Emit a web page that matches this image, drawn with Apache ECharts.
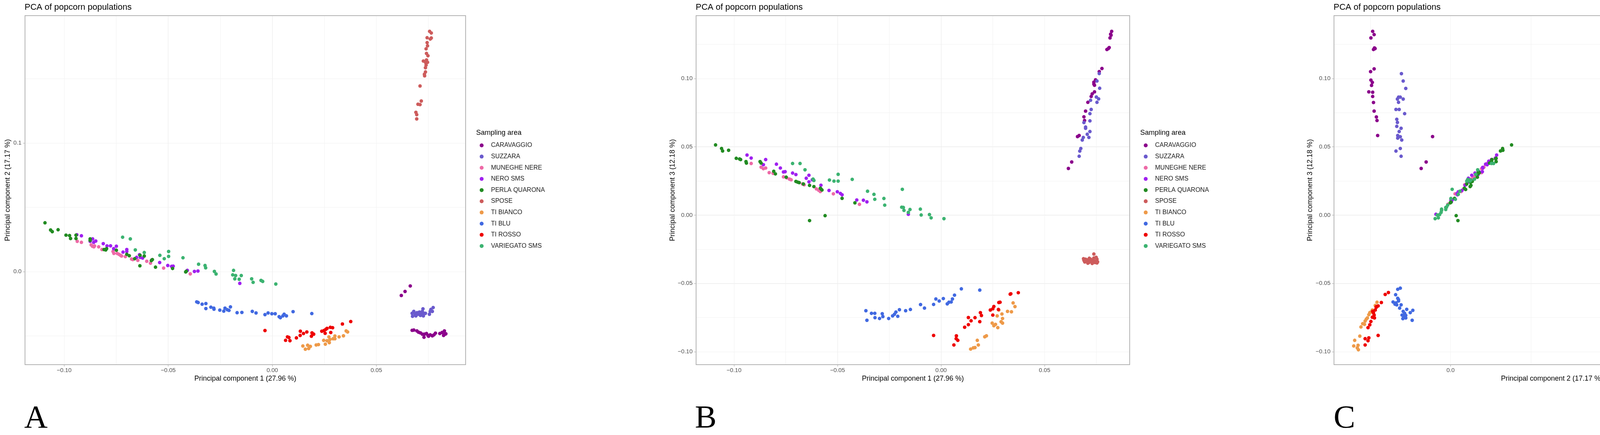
<!DOCTYPE html>
<html><head><meta charset="utf-8">
<script src="https://cdn.jsdelivr.net/npm/echarts@6.0.0/dist/echarts.min.js"></script>
<style>html,body{margin:0;padding:0;background:#fff}#c{width:4731px;height:1113px}</style>
</head><body><div id="c"></div>
<script>
// ---------- categories & colours ----------
const populations = ['CARAVAGGIO','SUZZARA','MUNEGHE NERE','NERO SMS','PERLA QUARONA','SPOSE','TI BIANCO','TI BLU','TI ROSSO','VARIEGATO SMS'];
const popColors = ['#8B008B','#6A5ACD','#EE6AA7','#A020F0','#228B22','#CD5C5C','#EE9A49','#4169E1','#EE0000','#3CB371'];

// ---------- axis titles & ticks ----------
const pc1Title = 'Principal component 1 (27.96 %)';
const pc2Title = 'Principal component 2 (17.17 %)';
const pc3Title = 'Principal component 3 (12.18 %)';
const pc1Ticks = [-0.10, -0.05, 0.00, 0.05];
const pc2Ticks = [0.0, 0.1];
const pc3Ticks = [-0.10, -0.05, 0.00, 0.05, 0.10];

// ---------- Panel A : PC1 vs PC2 ----------
const A_CARAVAGGIO = [[0.0620,-0.0185],[0.0638,-0.0154],[0.0663,-0.0111],[0.0672,-0.0456],[0.0680,-0.0454],[0.0695,-0.0461],[0.0703,-0.0471],[0.0712,-0.0476],[0.0721,-0.0486],[0.0729,-0.0510],[0.0731,-0.0486],[0.0741,-0.0481],[0.0748,-0.0496],[0.0751,-0.0502],[0.0759,-0.0491],[0.0769,-0.0499],[0.0777,-0.0491],[0.0784,-0.0478],[0.0805,-0.0481],[0.0816,-0.0473],[0.0823,-0.0496],[0.0827,-0.0461],[0.0830,-0.0486],[0.0834,-0.0483]];
const A_SUZZARA = [[0.0672,-0.0324],[0.0674,-0.0347],[0.0680,-0.0309],[0.0687,-0.0331],[0.0690,-0.0344],[0.0695,-0.0319],[0.0701,-0.0331],[0.0707,-0.0314],[0.0712,-0.0340],[0.0716,-0.0324],[0.0721,-0.0309],[0.0724,-0.0289],[0.0726,-0.0344],[0.0730,-0.0324],[0.0736,-0.0324],[0.0755,-0.0331],[0.0759,-0.0309],[0.0762,-0.0294],[0.0769,-0.0309],[0.0773,-0.0279]];
const A_MUNEGHE = [[-0.0937,0.0236],[-0.0917,0.0228],[-0.0870,0.0208],[-0.0864,0.0198],[-0.0857,0.0193],[-0.0854,0.0200],[-0.0834,0.0193],[-0.0818,0.0172],[-0.0765,0.0157],[-0.0761,0.0142],[-0.0745,0.0142],[-0.0737,0.0135],[-0.0729,0.0127],[-0.0724,0.0122],[-0.0706,0.0117],[-0.0676,0.0098],[-0.0670,0.0094],[-0.0646,0.0088],[-0.0603,0.0081],[-0.0585,0.0066],[-0.0522,0.0028],[-0.0394,-0.0017]];
const A_NERO = [[-0.0939,0.0287],[-0.0917,0.0279],[-0.0875,0.0236],[-0.0863,0.0255],[-0.0858,0.0228],[-0.0848,0.0238],[-0.0812,0.0218],[-0.0794,0.0200],[-0.0777,0.0201],[-0.0762,0.0179],[-0.0749,0.0198],[-0.0717,0.0152],[-0.0699,0.0172],[-0.0699,0.0157],[-0.0652,0.0111],[-0.0638,0.0132],[-0.0634,0.0111],[-0.0623,0.0106],[-0.0579,0.0091],[-0.0541,0.0071],[-0.0502,0.0048],[-0.0484,0.0041],[-0.0476,0.0043],[-0.0408,0.0010],[-0.0374,0.0002],[-0.0357,0.0005],[-0.0156,-0.0091]];
const A_PERLA = [[-0.1092,0.0380],[-0.1065,0.0324],[-0.1057,0.0311],[-0.1029,0.0326],[-0.0991,0.0284],[-0.0974,0.0281],[-0.0969,0.0258],[-0.0943,0.0284],[-0.0943,0.0258],[-0.0875,0.0255],[-0.0875,0.0243],[-0.0808,0.0172],[-0.0800,0.0169],[-0.0796,0.0179],[-0.0749,0.0167],[-0.0699,0.0135],[-0.0687,0.0124],[-0.0661,0.0101],[-0.0636,0.0046],[-0.0635,0.0127],[-0.0615,0.0122],[-0.0581,0.0086],[-0.0576,0.0094],[-0.0561,0.0035],[-0.0479,0.0025],[-0.0416,-0.0002],[-0.0413,0.0003]];
const A_SPOSE = [[0.0756,0.1869],[0.0764,0.1856],[0.0744,0.1819],[0.0764,0.1817],[0.0759,0.1809],[0.0744,0.1781],[0.0746,0.1756],[0.0739,0.1733],[0.0741,0.1697],[0.0748,0.1679],[0.0726,0.1638],[0.0741,0.1646],[0.0737,0.1626],[0.0746,0.1628],[0.0739,0.1606],[0.0736,0.1586],[0.0736,0.1553],[0.0731,0.1535],[0.0732,0.1523],[0.0710,0.1444],[0.0716,0.1327],[0.0700,0.1302],[0.0710,0.1299],[0.0690,0.1239],[0.0694,0.1221],[0.0694,0.1188]];
const A_TIBIANCO = [[0.0147,-0.0578],[0.0159,-0.0603],[0.0170,-0.0572],[0.0175,-0.0598],[0.0183,-0.0581],[0.0211,-0.0570],[0.0222,-0.0567],[0.0247,-0.0534],[0.0255,-0.0564],[0.0263,-0.0537],[0.0272,-0.0507],[0.0274,-0.0552],[0.0277,-0.0527],[0.0292,-0.0522],[0.0301,-0.0500],[0.0301,-0.0522],[0.0321,-0.0507],[0.0342,-0.0499],[0.0355,-0.0461],[0.0362,-0.0469]];
const A_TIBLU = [[-0.0363,-0.0235],[-0.0356,-0.0240],[-0.0337,-0.0253],[-0.0319,-0.0248],[-0.0319,-0.0287],[-0.0295,-0.0276],[-0.0281,-0.0284],[-0.0280,-0.0292],[-0.0252,-0.0299],[-0.0233,-0.0307],[-0.0227,-0.0284],[-0.0216,-0.0296],[-0.0208,-0.0301],[-0.0201,-0.0274],[-0.0169,-0.0319],[-0.0146,-0.0317],[-0.0096,-0.0309],[-0.0078,-0.0321],[-0.0035,-0.0334],[-0.0020,-0.0321],[-0.0002,-0.0327],[0.0014,-0.0327],[0.0033,-0.0350],[0.0039,-0.0358],[0.0051,-0.0344],[0.0057,-0.0331],[0.0068,-0.0344],[0.0100,-0.0311],[0.0190,-0.0326]];
const A_TIROSSO = [[-0.0035,-0.0458],[0.0064,-0.0534],[0.0073,-0.0507],[0.0080,-0.0512],[0.0085,-0.0537],[0.0116,-0.0515],[0.0134,-0.0496],[0.0135,-0.0463],[0.0150,-0.0481],[0.0166,-0.0469],[0.0188,-0.0502],[0.0191,-0.0476],[0.0199,-0.0486],[0.0238,-0.0463],[0.0249,-0.0458],[0.0254,-0.0479],[0.0257,-0.0449],[0.0263,-0.0441],[0.0281,-0.0473],[0.0279,-0.0433],[0.0290,-0.0436],[0.0337,-0.0407],[0.0377,-0.0388]];
const A_VARIEGATO = [[-0.0719,0.0268],[-0.0682,0.0255],[-0.0658,0.0169],[-0.0615,0.0149],[-0.0540,0.0127],[-0.0519,0.0101],[-0.0498,0.0157],[-0.0498,0.0119],[-0.0429,0.0108],[-0.0354,0.0058],[-0.0323,0.0048],[-0.0320,0.0030],[-0.0278,0.0002],[-0.0270,-0.0018],[-0.0186,0.0010],[-0.0190,-0.0025],[-0.0176,-0.0030],[-0.0180,-0.0056],[-0.0159,-0.0059],[-0.0149,-0.0030],[-0.0099,-0.0056],[-0.0092,-0.0083],[-0.0054,-0.0068],[-0.0046,-0.0076],[0.0017,-0.0096]];

// ---------- Panel B : PC1 vs PC3 ----------
const B_CARAVAGGIO = [[0.0824,0.1346],[0.0819,0.1325],[0.0821,0.1318],[0.0816,0.1298],[0.0812,0.1227],[0.0808,0.1220],[0.0801,0.1213],[0.0777,0.1074],[0.0764,0.1051],[0.0746,0.0991],[0.0738,0.0974],[0.0738,0.0960],[0.0741,0.0951],[0.0741,0.0903],[0.0730,0.0888],[0.0725,0.0869],[0.0709,0.0826],[0.0698,0.0762],[0.0690,0.0720],[0.0693,0.0693],[0.0667,0.0583],[0.0659,0.0575],[0.0631,0.0389],[0.0615,0.0342]];
const B_SUZZARA = [[0.0764,0.1037],[0.0753,0.0982],[0.0766,0.0929],[0.0750,0.0865],[0.0761,0.0851],[0.0753,0.0826],[0.0722,0.0841],[0.0725,0.0774],[0.0719,0.0743],[0.0719,0.0690],[0.0690,0.0678],[0.0698,0.0645],[0.0698,0.0636],[0.0719,0.0612],[0.0706,0.0592],[0.0687,0.0569],[0.0682,0.0550],[0.0714,0.0569],[0.0675,0.0488],[0.0670,0.0469],[0.0667,0.0431]];
const B_MUNEGHE = [[-0.0917,0.0378],[-0.0869,0.0351],[-0.0858,0.0340],[-0.0847,0.0345],[-0.0830,0.0311],[-0.0811,0.0306],[-0.0761,0.0280],[-0.0745,0.0273],[-0.0732,0.0264],[-0.0724,0.0259],[-0.0669,0.0228],[-0.0661,0.0222],[-0.0602,0.0192],[-0.0591,0.0182],[-0.0583,0.0173],[-0.0520,0.0156],[-0.0394,0.0079]];
const B_NERO = [[-0.0937,0.0440],[-0.0917,0.0418],[-0.0847,0.0407],[-0.0858,0.0369],[-0.0795,0.0373],[-0.0776,0.0345],[-0.0761,0.0316],[-0.0753,0.0318],[-0.0717,0.0308],[-0.0701,0.0297],[-0.0638,0.0292],[-0.0651,0.0270],[-0.0638,0.0244],[-0.0622,0.0259],[-0.0580,0.0219],[-0.0541,0.0181],[-0.0501,0.0171],[-0.0486,0.0159],[-0.0478,0.0149],[-0.0407,0.0111],[-0.0375,0.0109],[-0.0358,0.0097],[-0.0158,0.0006]];
const B_PERLA = [[-0.1089,0.0514],[-0.1060,0.0488],[-0.1055,0.0470],[-0.1026,0.0475],[-0.0989,0.0416],[-0.0973,0.0411],[-0.0968,0.0407],[-0.0942,0.0392],[-0.0940,0.0381],[-0.0874,0.0392],[-0.0869,0.0381],[-0.0808,0.0321],[-0.0800,0.0302],[-0.0748,0.0278],[-0.0701,0.0247],[-0.0693,0.0242],[-0.0685,0.0238],[-0.0665,0.0228],[-0.0635,0.0218],[-0.0614,0.0209],[-0.0583,0.0197],[-0.0580,0.0192],[-0.0575,0.0184],[-0.0478,0.0123],[-0.0416,0.0090],[-0.0560,-0.0004],[-0.0635,-0.0040]];
const B_SPOSE = [[0.0688,-0.0319],[0.0694,-0.0343],[0.0706,-0.0328],[0.0714,-0.0347],[0.0722,-0.0323],[0.0730,-0.0354],[0.0738,-0.0285],[0.0738,-0.0314],[0.0746,-0.0338],[0.0753,-0.0323],[0.0756,-0.0342],[0.0703,-0.0338],[0.0725,-0.0338],[0.0698,-0.0323],[0.0719,-0.0331],[0.0735,-0.0328],[0.0743,-0.0347],[0.0709,-0.0352],[0.0749,-0.0309],[0.0732,-0.0343],[0.0690,-0.0331],[0.0716,-0.0316],[0.0753,-0.0350]];
const B_TIBIANCO = [[0.0143,-0.0981],[0.0156,-0.0972],[0.0164,-0.0970],[0.0175,-0.0917],[0.0180,-0.0951],[0.0211,-0.0891],[0.0219,-0.0884],[0.0247,-0.0791],[0.0255,-0.0810],[0.0263,-0.0800],[0.0271,-0.0738],[0.0274,-0.0824],[0.0279,-0.0695],[0.0290,-0.0781],[0.0294,-0.0724],[0.0297,-0.0757],[0.0297,-0.0791],[0.0321,-0.0705],[0.0340,-0.0708],[0.0348,-0.0643],[0.0357,-0.0670]];
const B_TIBLU = [[-0.0363,-0.0700],[-0.0358,-0.0770],[-0.0336,-0.0719],[-0.0320,-0.0719],[-0.0319,-0.0751],[-0.0297,-0.0757],[-0.0284,-0.0722],[-0.0281,-0.0743],[-0.0253,-0.0757],[-0.0234,-0.0738],[-0.0225,-0.0726],[-0.0218,-0.0710],[-0.0209,-0.0741],[-0.0201,-0.0693],[-0.0171,-0.0700],[-0.0148,-0.0691],[-0.0099,-0.0655],[-0.0080,-0.0681],[-0.0036,-0.0654],[-0.0025,-0.0614],[-0.0009,-0.0629],[0.0011,-0.0611],[0.0030,-0.0650],[0.0038,-0.0638],[0.0049,-0.0636],[0.0055,-0.0614],[0.0065,-0.0586],[0.0098,-0.0540],[0.0187,-0.0549]];
const B_TIROSSO = [[-0.0036,-0.0881],[0.0062,-0.0951],[0.0073,-0.0905],[0.0074,-0.0884],[0.0081,-0.0917],[0.0114,-0.0821],[0.0132,-0.0802],[0.0132,-0.0750],[0.0145,-0.0774],[0.0164,-0.0751],[0.0187,-0.0780],[0.0190,-0.0714],[0.0195,-0.0735],[0.0238,-0.0695],[0.0250,-0.0686],[0.0255,-0.0669],[0.0250,-0.0732],[0.0277,-0.0691],[0.0279,-0.0640],[0.0285,-0.0638],[0.0334,-0.0579],[0.0337,-0.0576],[0.0373,-0.0568]];
const B_VARIEGATO = [[-0.0717,0.0378],[-0.0681,0.0378],[-0.0657,0.0332],[-0.0497,0.0299],[-0.0618,0.0264],[-0.0614,0.0254],[-0.0539,0.0257],[-0.0517,0.0249],[-0.0497,0.0249],[-0.0429,0.0262],[-0.0355,0.0175],[-0.0324,0.0152],[-0.0320,0.0116],[-0.0276,0.0122],[-0.0272,0.0073],[-0.0187,0.0189],[-0.0190,0.0058],[-0.0182,0.0056],[-0.0179,0.0035],[-0.0158,0.0020],[-0.0150,0.0041],[-0.0100,0.0044],[-0.0096,0.0001],[-0.0056,0.0004],[-0.0048,-0.0020],[0.0014,-0.0026]];

// ---------- Panel C : PC2 vs PC3 ----------
const C_CARAVAGGIO = [[-0.0485,0.1346],[-0.0476,0.1322],[-0.0496,0.1298],[-0.0474,0.1224],[-0.0470,0.1220],[-0.0480,0.1213],[-0.0476,0.1071],[-0.0498,0.1051],[-0.0496,0.0989],[-0.0487,0.0972],[-0.0492,0.0950],[-0.0509,0.0903],[-0.0485,0.0900],[-0.0485,0.0869],[-0.0480,0.0825],[-0.0476,0.0762],[-0.0462,0.0719],[-0.0458,0.0693],[-0.0454,0.0583],[-0.0112,0.0575],[-0.0152,0.0389],[-0.0183,0.0342]];
const C_SUZZARA = [[-0.0306,0.1036],[-0.0295,0.0982],[-0.0279,0.0928],[-0.0324,0.0864],[-0.0313,0.0864],[-0.0295,0.0850],[-0.0331,0.0850],[-0.0324,0.0826],[-0.0340,0.0774],[-0.0320,0.0774],[-0.0286,0.0743],[-0.0335,0.0702],[-0.0331,0.0679],[-0.0335,0.0650],[-0.0308,0.0636],[-0.0320,0.0612],[-0.0329,0.0583],[-0.0313,0.0574],[-0.0329,0.0564],[-0.0304,0.0550],[-0.0340,0.0469],[-0.0313,0.0488],[-0.0308,0.0431]];
const C_MUNEGHE = [[0.0236,0.0385],[0.0228,0.0378],[0.0208,0.0351],[0.0198,0.0340],[0.0193,0.0340],[0.0200,0.0345],[0.0193,0.0311],[0.0172,0.0306],[0.0157,0.0280],[0.0142,0.0280],[0.0142,0.0273],[0.0135,0.0264],[0.0127,0.0264],[0.0122,0.0259],[0.0117,0.0259],[0.0098,0.0228],[0.0094,0.0222],[0.0088,0.0222],[0.0081,0.0192],[0.0066,0.0173],[0.0028,0.0156],[-0.0017,0.0079]];
const C_NERO = [[0.0287,0.0440],[0.0279,0.0418],[0.0236,0.0380],[0.0255,0.0407],[0.0228,0.0369],[0.0238,0.0395],[0.0218,0.0373],[0.0200,0.0350],[0.0201,0.0345],[0.0179,0.0316],[0.0198,0.0318],[0.0152,0.0308],[0.0172,0.0297],[0.0157,0.0297],[0.0111,0.0270],[0.0132,0.0292],[0.0111,0.0244],[0.0106,0.0259],[0.0091,0.0219],[0.0071,0.0181],[0.0048,0.0171],[0.0041,0.0159],[0.0043,0.0149],[0.0010,0.0111],[0.0002,0.0109],[0.0005,0.0097],[-0.0091,0.0006]];
const C_PERLA = [[0.0380,0.0514],[0.0324,0.0488],[0.0311,0.0470],[0.0326,0.0475],[0.0284,0.0416],[0.0281,0.0411],[0.0258,0.0407],[0.0284,0.0392],[0.0258,0.0381],[0.0255,0.0392],[0.0243,0.0381],[0.0172,0.0321],[0.0169,0.0302],[0.0179,0.0310],[0.0167,0.0278],[0.0135,0.0247],[0.0124,0.0240],[0.0101,0.0228],[0.0046,-0.0040],[0.0127,0.0218],[0.0122,0.0209],[0.0086,0.0197],[0.0094,0.0188],[0.0035,-0.0004],[0.0025,0.0123],[-0.0002,0.0090],[0.0003,0.0095]];
const C_SPOSE = [[0.1189,-0.0347],[0.1221,-0.0342],[0.1234,-0.0318],[0.1299,-0.0342],[0.1328,-0.0344],[0.1444,-0.0326],[0.1524,-0.0333],[0.1533,-0.0357],[0.1551,-0.0342],[0.1585,-0.0350],[0.1596,-0.0340],[0.1607,-0.0352],[0.1629,-0.0342],[0.1640,-0.0323],[0.1651,-0.0347],[0.1685,-0.0338],[0.1700,-0.0333],[0.1736,-0.0333],[0.1763,-0.0333],[0.1785,-0.0302],[0.1808,-0.0314],[0.1819,-0.0285],[0.1825,-0.0338],[0.1857,-0.0342],[0.1868,-0.0309]];
const C_TIBIANCO = [[-0.0458,-0.0638],[-0.0469,-0.0662],[-0.0487,-0.0695],[-0.0496,-0.0710],[-0.0503,-0.0714],[-0.0509,-0.0729],[-0.0518,-0.0753],[-0.0525,-0.0762],[-0.0532,-0.0776],[-0.0536,-0.0800],[-0.0547,-0.0795],[-0.0558,-0.0819],[-0.0565,-0.0886],[-0.0597,-0.0917],[-0.0576,-0.0953],[-0.0603,-0.0958],[-0.0581,-0.0972],[-0.0574,-0.0986]];
const C_TIBLU = [[-0.0329,-0.0543],[-0.0313,-0.0535],[-0.0342,-0.0583],[-0.0329,-0.0609],[-0.0324,-0.0619],[-0.0358,-0.0636],[-0.0340,-0.0643],[-0.0335,-0.0657],[-0.0308,-0.0657],[-0.0317,-0.0681],[-0.0295,-0.0705],[-0.0273,-0.0690],[-0.0286,-0.0719],[-0.0302,-0.0732],[-0.0291,-0.0743],[-0.0279,-0.0753],[-0.0235,-0.0697],[-0.0251,-0.0714],[-0.0239,-0.0770],[-0.0297,-0.0758],[-0.0279,-0.0734],[-0.0346,-0.0652],[-0.0324,-0.0629]];
const C_TIROSSO = [[-0.0407,-0.0581],[-0.0387,-0.0567],[-0.0431,-0.0640],[-0.0451,-0.0665],[-0.0463,-0.0676],[-0.0469,-0.0695],[-0.0480,-0.0716],[-0.0476,-0.0732],[-0.0487,-0.0748],[-0.0474,-0.0753],[-0.0496,-0.0779],[-0.0503,-0.0803],[-0.0514,-0.0824],[-0.0451,-0.0881],[-0.0509,-0.0899],[-0.0532,-0.0905],[-0.0514,-0.0920],[-0.0532,-0.0951],[-0.0485,-0.0705],[-0.0463,-0.0671]];
const C_VARIEGATO = [[0.0268,0.0378],[0.0255,0.0378],[0.0169,0.0332],[0.0149,0.0264],[0.0127,0.0257],[0.0101,0.0249],[0.0157,0.0299],[0.0119,0.0249],[0.0108,0.0262],[0.0058,0.0175],[0.0048,0.0152],[0.0030,0.0116],[0.0002,0.0122],[-0.0018,0.0073],[0.0010,0.0189],[-0.0025,0.0058],[-0.0030,0.0056],[-0.0056,0.0035],[-0.0059,0.0020],[-0.0030,0.0041],[-0.0056,0.0044],[-0.0083,0.0001],[-0.0068,0.0004],[-0.0076,-0.0020],[-0.0096,-0.0026]];

const panelA = [A_CARAVAGGIO,A_SUZZARA,A_MUNEGHE,A_NERO,A_PERLA,A_SPOSE,A_TIBIANCO,A_TIBLU,A_TIROSSO,A_VARIEGATO];
const panelB = [B_CARAVAGGIO,B_SUZZARA,B_MUNEGHE,B_NERO,B_PERLA,B_SPOSE,B_TIBIANCO,B_TIBLU,B_TIROSSO,B_VARIEGATO];
const panelC = [C_CARAVAGGIO,C_SUZZARA,C_MUNEGHE,C_NERO,C_PERLA,C_SPOSE,C_TIBIANCO,C_TIBLU,C_TIROSSO,C_VARIEGATO];

// ---------- layout ----------
const SANS = 'Liberation Sans';
const panels = [
  {grid:{left:64, top:40, width:1128, height:893}, data:panelA,
   x:{min:-0.1188, max:0.0929, major:0.05, minor:0.025, ticks:pc1Ticks, dec:2, name:pc1Title},
   y:{min:-0.0723, max:0.1991, major:0.1, minor:0.05, ticks:pc2Ticks, dec:1, name:pc2Title, gap:35},
   legendX:1228, legendTitleX:1219, letter:'A', letterX:62},
  {grid:{left:1782, top:40, width:1110, height:893}, data:panelB,
   x:{min:-0.1183, max:0.0911, major:0.05, minor:0.025, ticks:pc1Ticks, dec:2, name:pc1Title},
   y:{min:-0.1095, max:0.1461, major:0.05, minor:0.025, ticks:pc3Ticks, dec:2, name:pc3Title, gap:51},
   legendX:2928, legendTitleX:2919, letter:'B', letterX:1779},
  {grid:{left:3415, top:40, width:1116, height:893}, data:panelC,
   x:{min:-0.0726, max:0.1989, major:0.1, minor:0.05, ticks:pc2Ticks, dec:1, name:pc2Title},
   y:{min:-0.1095, max:0.1461, major:0.05, minor:0.025, ticks:pc3Ticks, dec:2, name:pc3Title, gap:52},
   legendX:4568, legendTitleX:4559, letter:'C', letterX:3414}
];

function fmt(dec, step) {
  return function (v) {
    if (Math.abs(v / step - Math.round(v / step)) > 1e-6) return '';
    if (Math.abs(v) < 1e-9) v = 0;
    return v.toFixed(dec).replace('-', '\u2212');
  };
}

const grids = [], xAxes = [], yAxes = [], series = [], titles = [], legends = [];
panels.forEach((p, i) => {
  grids.push(Object.assign({show:true, z:1, backgroundColor:'rgba(0,0,0,0)', borderColor:'#b3b3b3', borderWidth:2,
    containLabel:false, outerBoundsMode:'none'}, p.grid));
  const mk = (ax, isX) => {
    const labelStep = ax.ticks.length > 1 ? Math.abs(ax.ticks[1] - ax.ticks[0]) : ax.major;
    return [{
      type:'value', gridIndex:i, min:ax.min, max:ax.max, minInterval:ax.major, maxInterval:ax.major,
      position: isX ? 'bottom' : 'left',
      axisLine:{show:false, onZero:false},
      axisTick:{show:true, customValues:ax.ticks, length:5, lineStyle:{color:'#b3b3b3', width:1.3}},
      axisLabel:{show:true, customValues:ax.ticks, formatter:fmt(ax.dec, labelStep), margin: isX ? 7.5 : 9,
        fontSize:15, lineHeight:15, color:'#4d4d4d', fontFamily:SANS},
      splitLine:{show:true, showMinLine:false, showMaxLine:false, lineStyle:{color:'#e2e2e2', width:1.3}},
      name:ax.name, nameLocation:'middle', nameGap: isX ? 26 : ax.gap,
      nameTextStyle:{fontSize:18, lineHeight:18, color:'#000', fontFamily:SANS}
    }, {
      type:'value', gridIndex:i, min:ax.min, max:ax.max, minInterval:ax.minor, maxInterval:ax.minor,
      position: isX ? 'top' : 'right',
      axisLine:{show:false, onZero:false}, axisTick:{show:false}, axisLabel:{show:false},
      splitLine:{show:true, showMinLine:false, showMaxLine:false, lineStyle:{color:'#efefef', width:0.9}}
    }];
  };
  xAxes.push(...mk(p.x, true));
  yAxes.push(...mk(p.y, false));
  populations.forEach((name, k) => {
    series.push({
      type:'scatter', name:name, xAxisIndex:2*i, yAxisIndex:2*i, data:p.data[k],
      symbol:'circle', symbolSize:9, itemStyle:{color:popColors[k], opacity:1},
      emphasis:{disabled:true}, silent:true, animation:false, z:3
    });
  });
  titles.push({text:'PCA of popcorn populations', left:p.grid.left - 1, top:8, padding:0,
    textStyle:{fontSize:22, lineHeight:22, fontWeight:'normal', color:'#000', fontFamily:SANS}});
  titles.push({text:'Sampling area', left:p.legendTitleX, top:331, padding:0,
    textStyle:{fontSize:18, lineHeight:18, fontWeight:'normal', color:'#000', fontFamily:SANS}});
  titles.push({text:p.letter, left:p.letterX, top:1031, padding:0,
    textStyle:{fontSize:83, lineHeight:83, fontWeight:'normal', color:'#000', fontFamily:'Liberation Serif'}});
  legends.push({
    data:populations, orient:'vertical', left:p.legendX, top:363.5, padding:0,
    itemWidth:10, itemHeight:17, itemGap:11.6, icon:'circle', selectedMode:false,
    textStyle:{fontSize:16, lineHeight:17, color:'#1a1a1a', fontFamily:SANS, padding:[0,0,0,14]}
  });
});

const chart = echarts.init(document.getElementById('c'), null, {renderer:'canvas', width:4731, height:1113});
chart.setOption({
  animation:false,
  backgroundColor:'#ffffff',
  title:titles,
  legend:legends,
  grid:grids,
  xAxis:xAxes,
  yAxis:yAxes,
  series:series
});
</script>
</body></html>
